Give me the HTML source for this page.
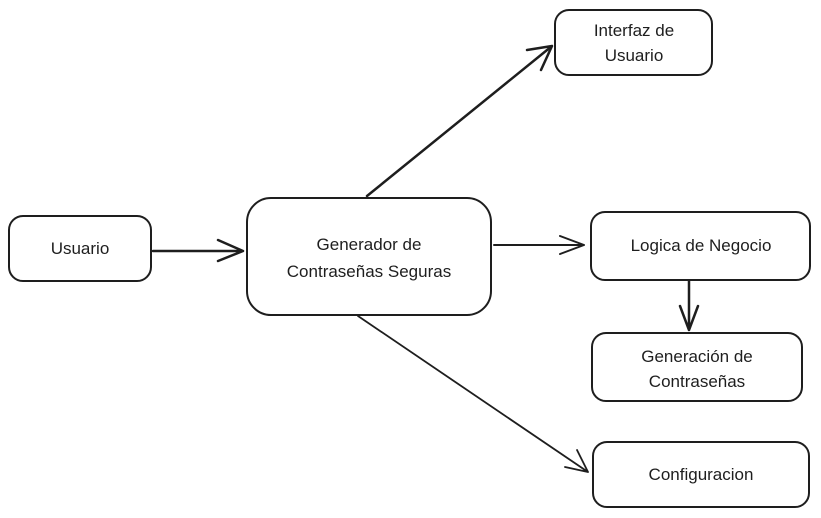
<!DOCTYPE html>
<html><head><meta charset="utf-8"><style>
html,body{margin:0;padding:0;background:#fff;}
svg{display:block;}
text{font-family:"Liberation Sans",sans-serif;font-size:17px;fill:#1e1e1e;text-anchor:middle;}
</style></head><body>
<svg width="821" height="518" viewBox="0 0 821 518" xmlns="http://www.w3.org/2000/svg">
<g fill="none" stroke="#1e1e1e" stroke-width="2" stroke-linecap="round" stroke-linejoin="round">
<rect x="9" y="216" width="142" height="65" rx="14"/>
<rect x="247" y="198" width="244" height="117" rx="24"/>
<rect x="555" y="10" width="157" height="65" rx="14"/>
<rect x="591" y="212" width="219" height="68" rx="14"/>
<rect x="592" y="333" width="210" height="68" rx="14"/>
<rect x="593" y="442" width="216" height="65" rx="14"/>
<path d="M153 251 L243 251 M218 240 L243 251 L218 261" stroke-width="2.5"/>
<path d="M367 196 L552 46 M527 50 L552 46 L541 70" stroke-width="2.5"/>
<path d="M494 245 L584 245 M560 236 L584 245 L560 254"/>
<path d="M689 281 L689 330 M680 306 L689 330 L698 306" stroke-width="2.5"/>
<path d="M358 316 L588 472 M565 467 L588 472 L577 450" stroke-width="1.8"/>
</g>
<text x="80" y="254">Usuario</text>
<text x="369" y="250">Generador de</text>
<text x="369" y="277">Contraseñas Seguras</text>
<text x="634" y="36">Interfaz de</text>
<text x="634" y="61">Usuario</text>
<text x="701" y="251">Logica de Negocio</text>
<text x="697" y="362">Generación de</text>
<text x="697" y="387">Contraseñas</text>
<text x="701" y="480">Configuracion</text>
</svg>
</body></html>
